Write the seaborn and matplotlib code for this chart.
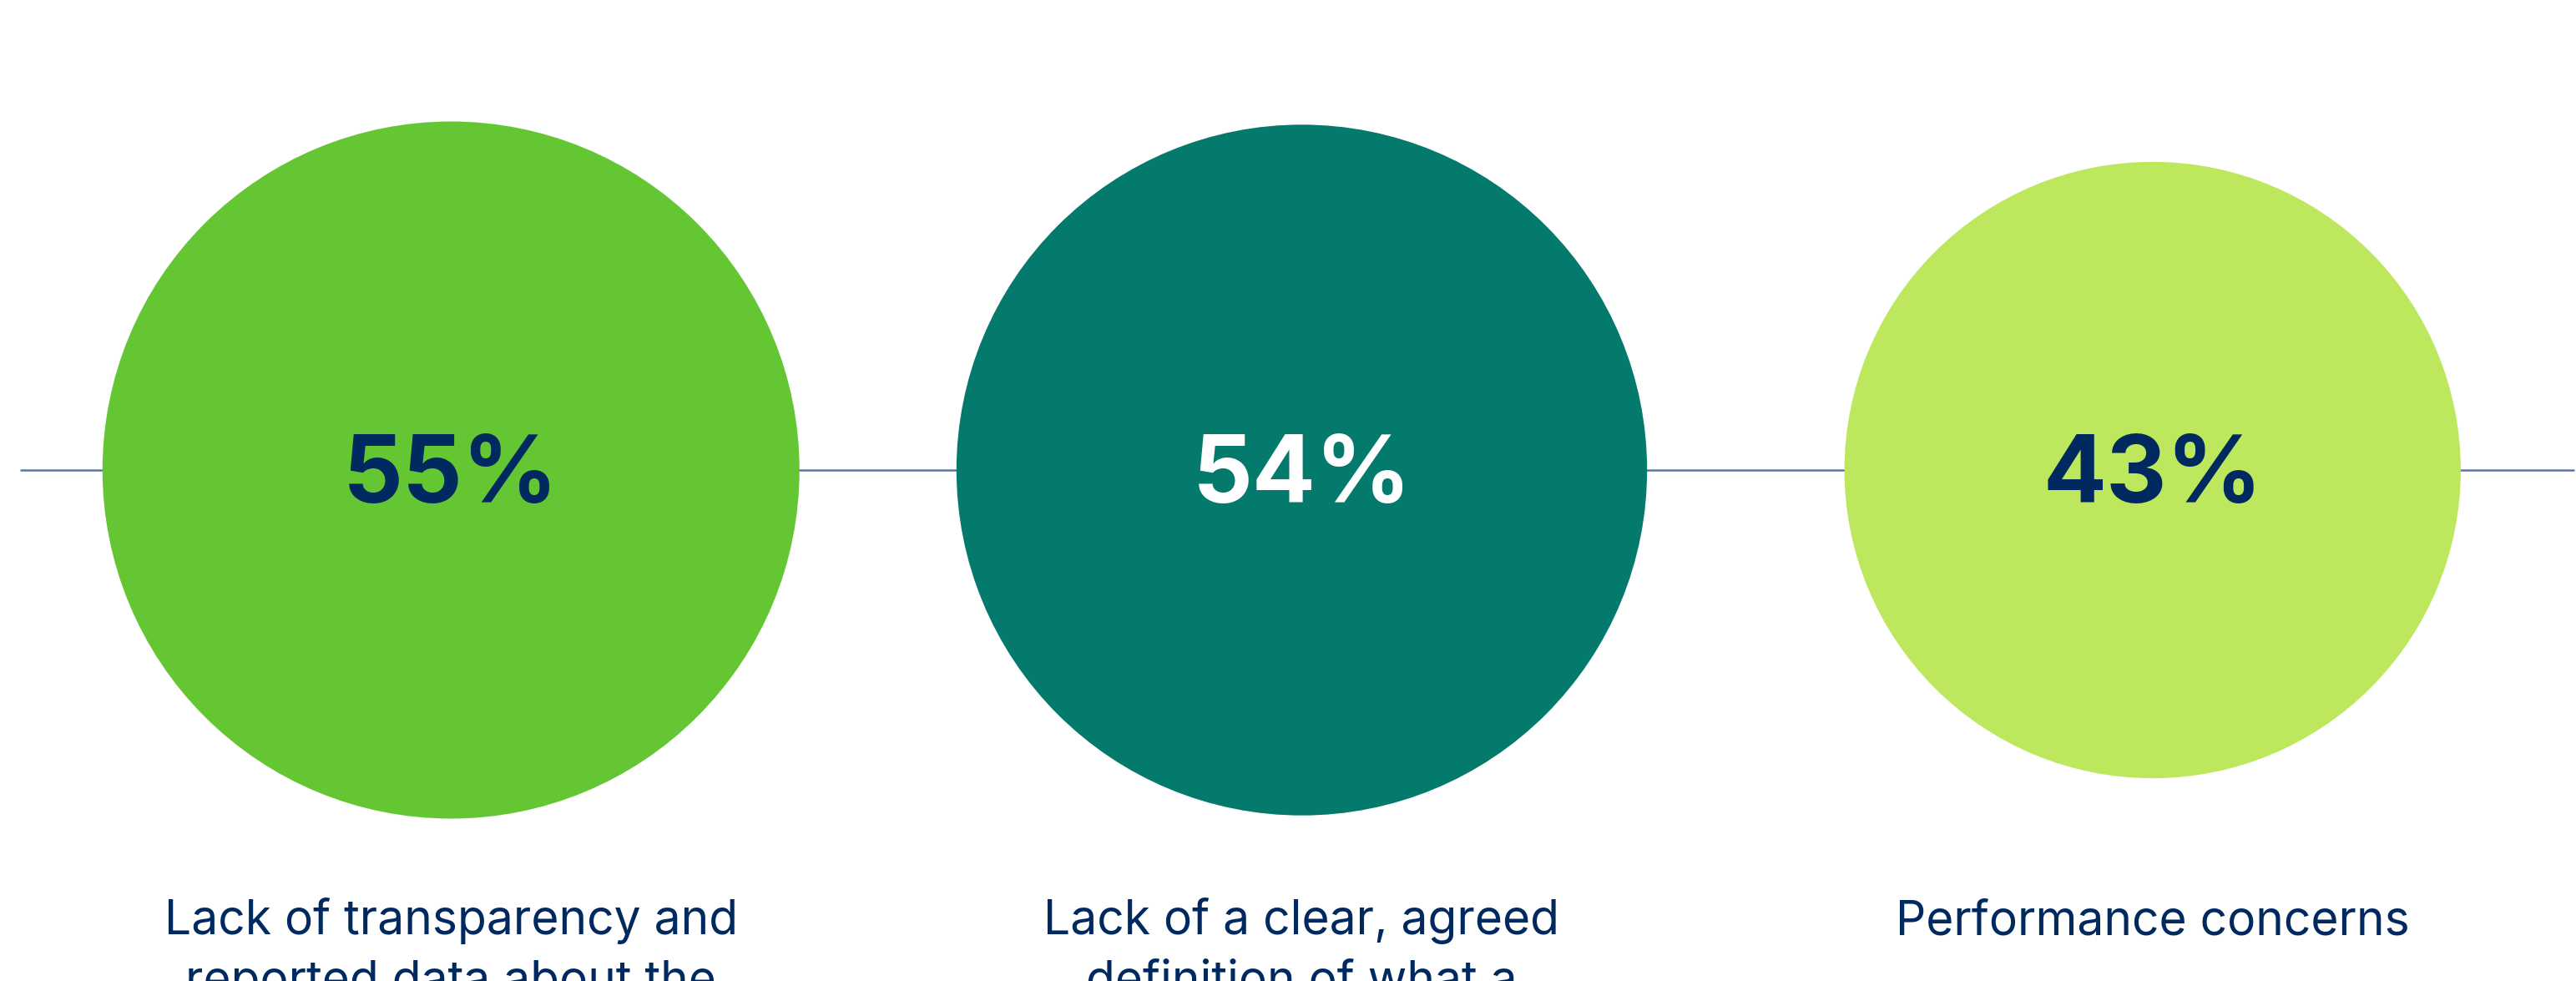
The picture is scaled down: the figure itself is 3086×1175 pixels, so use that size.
import matplotlib
matplotlib.use("Agg")
import matplotlib.pyplot as plt
import seaborn as sns
import pandas as pd

# data
categories = ["transparency", "definition", "performance"]
shares = [55, 54, 43]
value_labels = ["55%", "54%", "43%"]
labels = [
    "Lack of transparency and\nreported data about the",
    "Lack of a clear, agreed\ndefinition of what a",
    "Performance concerns",
]

# styling
circle_colors = ["#65C634", "#037A6B", "#BDE75D"]
number_colors = ["#00295F", "#FFFFFF", "#00295F"]
navy = "#00295F"
line_color = "#5B779F"

W, H, DPI = 3086, 1175, 100
center_y = 563           # px from top
max_radius_px = 417.5    # radius of the largest circle

sns.set_theme(style="white")
plt.rcParams["font.family"] = ["Inter", "DejaVu Sans"]

df = pd.DataFrame({"category": categories, "share": shares, "y": [0] * len(categories)})

fig = plt.figure(figsize=(W / DPI, H / DPI), dpi=DPI)
ax = fig.add_axes([0, 0, 1, 1])

# horizontal connecting line behind the circles
ax.axhline(0, xmin=25 / W, xmax=3083 / W, color=line_color, lw=1.8, zorder=0)

# circle area proportional to share
smax = (2 * max_radius_px * 72 / DPI) ** 2
sns.scatterplot(
    data=df, x="category", y="y", hue="category", size="share",
    sizes=(0, smax), size_norm=(0, max(shares)),
    palette=dict(zip(categories, circle_colors)),
    linewidth=0, legend=False, ax=ax, zorder=2,
)

for i, (val, col) in enumerate(zip(value_labels, number_colors)):
    ax.text(i, 563 - 602, val, ha="center", va="baseline", fontsize=81,
            fontweight="bold", color=col, zorder=3)

for i, lab in enumerate(labels):
    for k, line in enumerate(lab.split("\n")):
        ax.text(i, 563 - 1119 - k * 73, line, ha="center", va="baseline",
                fontsize=41, color=navy, zorder=3)

# map category positions onto the pixel layout
spacing = 1019.25
first = 540.25
ax.set_xlim(-first / spacing, (W - first) / spacing)
ax.set_ylim(-(H - center_y), center_y)
ax.set_axis_off()

fig.savefig("out.png", dpi=DPI, facecolor="white")
